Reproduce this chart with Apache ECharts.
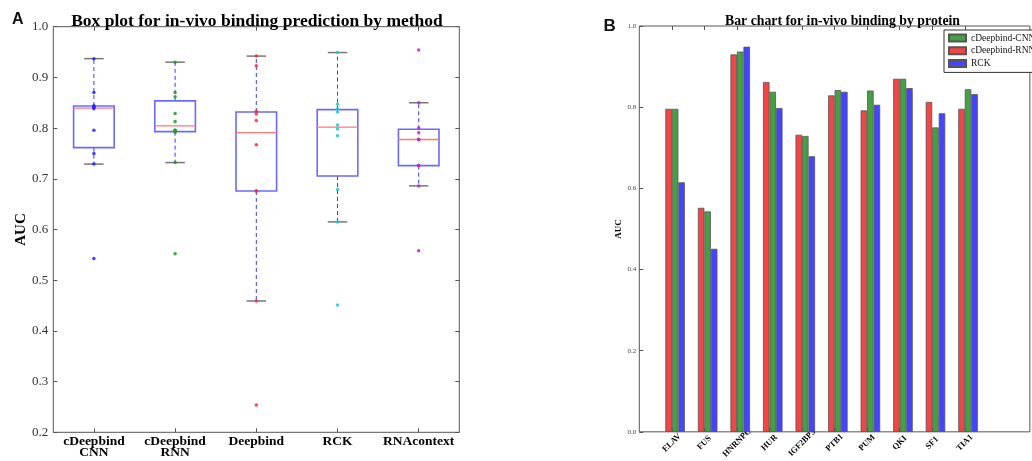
<!DOCTYPE html>
<html>
<head>
<meta charset="utf-8">
<script src="https://cdn.jsdelivr.net/npm/echarts@6/dist/echarts.min.js"></script>
<style>
html,body{margin:0;padding:0;background:#fff;}
#chart{width:1032px;height:461px;}
</style>
</head>
<body>
<div id="chart"></div>
<script>
// ---------- data ----------
const methods = ['cDeepbind\nCNN', 'cDeepbind\nRNN', 'Deepbind', 'RCK', 'RNAcontext'];
const proteins = ['ELAV', 'FUS', 'HNRNPC', 'HUR', 'IGF2BP3', 'PTB1', 'PUM', 'QKI', 'SF1', 'TIA1'];
const cnnAUC = [0.796, 0.543, 0.937, 0.838, 0.729, 0.842, 0.841, 0.870, 0.750, 0.844];
const rnnAUC = [0.796, 0.552, 0.930, 0.862, 0.732, 0.829, 0.792, 0.870, 0.813, 0.796];
const rckAUC = [0.615, 0.451, 0.949, 0.798, 0.679, 0.838, 0.806, 0.847, 0.785, 0.832];
const deepbindAUC = [0.942, 0.923, 0.833, 0.828, 0.815, 0.767, 0.676, 0.676, 0.459, 0.254];
const rnacontextAUC = [0.954, 0.850, 0.800, 0.791, 0.778, 0.777, 0.726, 0.726, 0.686, 0.558];
const boxYTicks = [0.2, 1.0, 0.1];
const barYTicks = [0.0, 1.0, 0.2];
const seriesNames = ['cDeepbind-CNN', 'cDeepbind-RNN', 'RCK'];

// ---------- helpers ----------
const methodData = [cnnAUC, rnnAUC, deepbindAUC, rckAUC, rnacontextAUC];
const pointColors = ['#2020ff', '#1f9a1f', '#ff2a2a', '#1fc8c8', '#c81fc8'];
function quantile(sorted, p) {
  const pos = (sorted.length - 1) * p, lo = Math.floor(pos), hi = Math.ceil(pos);
  return sorted[lo] + (sorted[hi] - sorted[lo]) * (pos - lo);
}
function boxStats(arr) {
  const s = arr.slice().sort((a, b) => a - b);
  const q1 = quantile(s, 0.25), med = quantile(s, 0.5), q3 = quantile(s, 0.75);
  const iqr = q3 - q1;
  const low = Math.min(...s.filter(v => v >= q1 - 1.5 * iqr));
  const high = Math.max(...s.filter(v => v <= q3 + 1.5 * iqr));
  return [low, q1, med, q3, high];
}
const boxData = methodData.map((arr, i) => [i].concat(boxStats(arr)));
const pointSeries = methodData.map((arr, i) => ({
  type: 'scatter', xAxisIndex: 0, yAxisIndex: 0, z: 5,
  symbolSize: 3.5,
  itemStyle: { color: pointColors[i], opacity: 0.85 },
  data: arr.map(v => [i, v]),
  silent: true
}));
const barCats = [''].concat(proteins, ['', '']);
const padVals = v => ['-'].concat(v, ['-', '-']);

const serif = 'Liberation Serif';
const chart = echarts.init(document.getElementById('chart'), null, { renderer: 'canvas' });
const option = {
  animation: false,
  backgroundColor: '#fff',
  title: [
    { text: 'Box plot for in-vivo binding prediction by method', left: 252, top: 7, textAlign: 'center',
      textStyle: { fontFamily: serif, fontWeight: 'bold', fontSize: 17.5, color: '#000' } },
    { text: 'Bar chart for in-vivo binding by protein', left: 837.5, top: 9, textAlign: 'center',
      textStyle: { fontFamily: serif, fontWeight: 'bold', fontSize: 13.8, color: '#000' } }
  ],
  graphic: [
    { type: 'text', left: 12, top: 12, style: { text: 'A', font: 'bold 16px "Liberation Sans"', fill: '#111' } },
    { type: 'text', left: 603.5, top: 18, style: { text: 'B', font: 'bold 17px "Liberation Sans"', fill: '#111' } }
  ],
  legend: {
    data: seriesNames,
    orient: 'vertical', left: 944, top: 30,
    itemWidth: 17, itemHeight: 7, itemGap: 2.7,
    padding: [3, 6, 4, 4],
    borderColor: '#333', borderWidth: 1, backgroundColor: '#fff',
    icon: 'rect',
    textStyle: { fontFamily: serif, fontSize: 9.5, color: '#111', lineHeight: 10 }
  },
  grid: [
    { left: 53.3, top: 26.7, width: 406, height: 405.6, show: true, borderColor: '#555', borderWidth: 1, backgroundColor: 'transparent' },
    { left: 639.3, top: 26, width: 406, height: 406.5, show: true, borderColor: '#555', borderWidth: 1, backgroundColor: 'transparent' }
  ],
  xAxis: [
    { gridIndex: 0, type: 'category', data: methods, boundaryGap: true,
      axisLine: { show: false },
      axisTick: { show: true, inside: true, alignWithLabel: true, length: 4, lineStyle: { color: '#555' } },
      axisLabel: { fontFamily: serif, fontWeight: 'bold', fontSize: 13.5, color: '#000', margin: 3, lineHeight: 11.5, interval: 0 } },
    { gridIndex: 0, type: 'category', data: methods, boundaryGap: true, position: 'top',
      axisLine: { show: false },
      axisTick: { show: true, inside: true, alignWithLabel: true, length: 4, lineStyle: { color: '#555' } },
      axisLabel: { show: false } },
    { gridIndex: 1, type: 'category', data: barCats, boundaryGap: false,
      axisLine: { show: false },
      axisTick: { show: true, inside: true, length: 4, lineStyle: { color: '#555' },
        interval: (i, v) => v !== '' },
      axisLabel: { fontFamily: serif, fontWeight: 'bold', fontSize: 8.5, color: '#000', rotate: 45,
        align: 'center', verticalAlign: 'middle', margin: 11, interval: 0 } },
    { gridIndex: 1, type: 'category', data: barCats, boundaryGap: false, position: 'top',
      axisLine: { show: false },
      axisTick: { show: true, inside: true, length: 4, lineStyle: { color: '#555' },
        interval: (i, v) => v !== '' },
      axisLabel: { show: false } }
  ],
  yAxis: [
    { gridIndex: 0, type: 'value', min: boxYTicks[0], max: boxYTicks[1], interval: boxYTicks[2],
      name: 'AUC', nameLocation: 'middle', nameGap: 21, nameRotate: 90,
      nameTextStyle: { fontFamily: serif, fontWeight: 'bold', fontSize: 15, color: '#000' },
      axisLine: { show: false }, splitLine: { show: false },
      axisTick: { show: true, inside: true, length: 4, lineStyle: { color: '#555' } },
      axisLabel: { fontFamily: serif, fontSize: 13, color: '#333', margin: 5, formatter: v => v.toFixed(1) } },
    { gridIndex: 0, type: 'value', min: boxYTicks[0], max: boxYTicks[1], interval: boxYTicks[2], position: 'right',
      axisLine: { show: false }, splitLine: { show: false },
      axisTick: { show: true, inside: true, length: 4, lineStyle: { color: '#555' } },
      axisLabel: { show: false } },
    { gridIndex: 1, type: 'value', min: barYTicks[0], max: barYTicks[1], interval: barYTicks[2],
      name: 'AUC', nameLocation: 'middle', nameGap: 15, nameRotate: 90,
      nameTextStyle: { fontFamily: serif, fontWeight: 'bold', fontSize: 9, color: '#000' },
      axisLine: { show: false }, splitLine: { show: false },
      axisTick: { show: true, inside: true, length: 4, lineStyle: { color: '#555' } },
      axisLabel: { fontFamily: serif, fontSize: 7, color: '#444', margin: 3, formatter: v => v.toFixed(1) } }
  ],
  series: [
    {
      type: 'custom', xAxisIndex: 0, yAxisIndex: 0, z: 3, silent: true,
      data: boxData,
      renderItem: function (params, api) {
        const x = api.value(0);
        const band = api.size([1, 0])[0];
        const half = band * 0.25, capHalf = band * 0.12;
        const pLow = api.coord([x, api.value(1)]);
        const pQ1 = api.coord([x, api.value(2)]);
        const pMed = api.coord([x, api.value(3)]);
        const pQ3 = api.coord([x, api.value(4)]);
        const pHigh = api.coord([x, api.value(5)]);
        const cx = pQ1[0];
        return {
          type: 'group',
          children: [
            { type: 'line', shape: { x1: cx, y1: pQ3[1], x2: cx, y2: pHigh[1] },
              style: { stroke: '#3a3aff', lineWidth: 1, lineDash: [4, 3] } },
            { type: 'line', shape: { x1: cx, y1: pQ1[1], x2: cx, y2: pLow[1] },
              style: { stroke: '#3a3aff', lineWidth: 1, lineDash: [4, 3] } },
            { type: 'line', shape: { x1: cx - capHalf, y1: pHigh[1], x2: cx + capHalf, y2: pHigh[1] },
              style: { stroke: '#777', lineWidth: 1.5 } },
            { type: 'line', shape: { x1: cx - capHalf, y1: pLow[1], x2: cx + capHalf, y2: pLow[1] },
              style: { stroke: '#777', lineWidth: 1.5 } },
            { type: 'rect', shape: { x: cx - half, y: pQ3[1], width: half * 2, height: pQ1[1] - pQ3[1] },
              style: { fill: 'none', stroke: '#6a6aff', lineWidth: 1.6 } },
            { type: 'line', shape: { x1: cx - half, y1: pMed[1], x2: cx + half, y2: pMed[1] },
              style: { stroke: '#ff7878', lineWidth: 1.3 } }
          ]
        };
      }
    }
  ].concat(pointSeries, [
    { name: '_pad', type: 'bar', xAxisIndex: 2, yAxisIndex: 2, barWidth: '20%', barGap: '0%', data: padVals([]).map(() => '-') },
    { name: 'cDeepbind-RNN', type: 'bar', xAxisIndex: 2, yAxisIndex: 2, barWidth: '20%', barGap: '0%',
      itemStyle: { color: '#f24545', borderColor: '#555', borderWidth: 0.8 }, data: padVals(rnnAUC) },
    { name: 'cDeepbind-CNN', type: 'bar', xAxisIndex: 2, yAxisIndex: 2, barWidth: '20%', barGap: '0%',
      itemStyle: { color: '#45a045', borderColor: '#555', borderWidth: 0.8 }, data: padVals(cnnAUC) },
    { name: 'RCK', type: 'bar', xAxisIndex: 2, yAxisIndex: 2, barWidth: '20%', barGap: '0%',
      itemStyle: { color: '#4545ff', borderColor: '#555', borderWidth: 0.8 }, data: padVals(rckAUC) }
  ])
};
chart.setOption(option);
</script>
</body>
</html>
